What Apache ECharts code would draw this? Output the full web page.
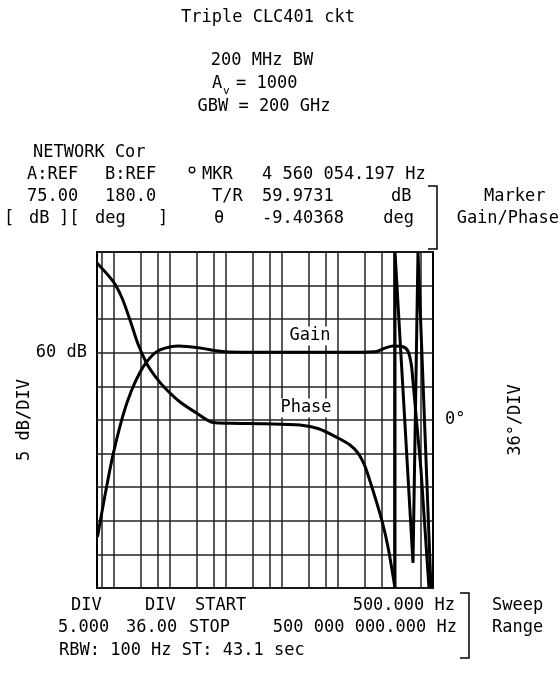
<!DOCTYPE html>
<html>
<head>
<meta charset="utf-8">
<script src="https://cdn.jsdelivr.net/npm/echarts@6/dist/echarts.min.js"></script>
<style>
html,body{margin:0;padding:0;background:#fff;}
#chart{width:560px;height:675px;}
</style>
</head>
<body>
<div id="chart"></div>
<script>
// ---------- data ----------
// Frequency sweep 500 Hz .. 500 MHz (log)
const gainFreq = [510, 695, 965, 1456, 2025, 2930, 4070, 5650, 8180, 14150, 32200, 96600, 500000, 2110000, 10900000, 46000000, 69500000, 96600000, 146000000, 181000000, 208000000];
const gainDb   = [32.6, 38.8, 44.8, 50.7, 54.2, 57.1, 58.9, 60.1, 60.7, 61.0, 60.75, 60.15, 60.07, 60.07, 60.07, 60.15, 60.7, 61.0, 60.9, 60.15, 57.9];
const gainTailFreq = [208000000, 305000000, 424000000];
const gainTailDb   = [57.9, 42.6, 25.0];

const phaseFreq = [505, 977, 1397, 1942, 2698, 3900, 5425, 8180, 15200, 30000, 59600, 119000, 500000, 2110000, 4560000, 10060000, 16480000, 22900000, 29300000, 36000000, 46000000, 61400000, 78600000, 104700000];
const phaseDeg  = [168, 148.2, 130.7, 107.1, 81.4, 60.0, 47.1, 34.3, 19.3, 7.5, -2.7, -3.5, -4.0, -5.4, -9.4, -19.3, -26.8, -35.4, -47.1, -62.1, -82.5, -108.2, -136.1, -180];
const phaseTailFreq = [104700000, 104800000, 219800000, 269800000, 460000000];
const phaseTailDeg  = [-180, 180, -153, 180, -180];

const gridFreqs = [600, 1e3, 3e3, 6e3, 1e4, 3e4, 6e4, 1e5, 3e5, 6e5, 1e6, 3e6, 6e6, 1e7, 3e7, 6e7, 1e8, 3e8];

const gainMin = 25, gainMax = 75, gainDiv = 5;
const phaseMin = -180, phaseMax = 180, phaseDiv = 36;
const fStart = 500, fStop = 5e8;

// ---------- chart ----------
const FONT = 'DejaVu Sans Mono';
const FS = 17;
const pair = (xs, ys) => xs.map((x, i) => [x, ys[i]]);
const font = s => s + 'px "' + FONT + '"';

const texts = [
  // header
  ['Triple CLC401 ckt', 268, 18, 'center'],
  ['200 MHz BW', 262, 61, 'center'],
  ['GBW = 200 GHz', 264, 107, 'center'],
  ['NETWORK Cor', 33, 153, 'left'],
  ['A:REF', 27, 175, 'left'],
  ['B:REF', 105, 175, 'left'],
  ['MKR', 202, 175, 'left'],
  ['4 560 054.197 Hz', 262, 175, 'left'],
  ['75.00', 27, 197, 'left'],
  ['180.0', 105, 197, 'left'],
  ['T/R', 212, 197, 'left'],
  ['59.9731', 262, 197, 'left'],
  ['dB', 391, 197, 'left'],
  ['Marker', 484, 197, 'left'],
  ['[', 4, 219, 'left'],
  ['dB', 29, 219, 'left'],
  ['][', 59, 219, 'left'],
  ['deg', 95, 219, 'left'],
  [']', 158, 219, 'left'],
  ['θ', 214, 219, 'left'],
  ['-9.40368', 262, 219, 'left'],
  ['deg', 414, 219, 'right'],
  ['Gain/Phase', 559, 219, 'right'],
  // footer
  ['DIV', 71, 606, 'left'],
  ['DIV', 145, 606, 'left'],
  ['START', 195, 606, 'left'],
  ['500.000 Hz', 455, 606, 'right'],
  ['Sweep', 492, 606, 'left'],
  ['5.000', 58, 628, 'left'],
  ['36.00', 126, 628, 'left'],
  ['STOP', 189, 628, 'left'],
  ['500 000 000.000 Hz', 457, 628, 'right'],
  ['Range', 492, 628, 'left'],
  ['RBW: 100 Hz ST: 43.1 sec', 59, 651, 'left']
];

const graphic = texts.map(t => ({
  type: 'text', x: t[1], y: t[2], silent: true,
  style: { text: t[0], fill: '#000', font: font(FS), textAlign: t[3], textVerticalAlign: 'middle' }
}));
// A_v = 1000
graphic.push({ type: 'text', x: 212, y: 84, style: { text: 'A', fill: '#000', font: font(FS), textVerticalAlign: 'middle' } });
graphic.push({ type: 'text', x: 223, y: 91, style: { text: 'v', fill: '#000', font: font(11), textVerticalAlign: 'middle' } });
graphic.push({ type: 'text', x: 236, y: 84, style: { text: '= 1000', fill: '#000', font: font(FS), textVerticalAlign: 'middle' } });
// marker circle before MKR
graphic.push({ type: 'circle', shape: { cx: 192, cy: 170, r: 2.8 }, style: { fill: 'none', stroke: '#000', lineWidth: 1.3 } });
// brackets
graphic.push({ type: 'polyline', shape: { points: [[428, 186], [437, 186], [437, 249], [428, 249]] }, style: { stroke: '#000', lineWidth: 1.5, fill: 'none' } });
graphic.push({ type: 'polyline', shape: { points: [[460, 593], [469, 593], [469, 658], [460, 658]] }, style: { stroke: '#000', lineWidth: 1.5, fill: 'none' } });
// side labels
graphic.push({ type: 'text', x: 25, y: 420, rotation: Math.PI / 2, style: { text: '5 dB/DIV', fill: '#000', font: font(FS), textAlign: 'center', textVerticalAlign: 'middle' } });
graphic.push({ type: 'text', x: 516, y: 420, rotation: Math.PI / 2, style: { text: '36°/DIV', fill: '#000', font: font(FS), textAlign: 'center', textVerticalAlign: 'middle' } });
// trace labels
graphic.push({ type: 'text', x: 310, y: 336, z: 100, style: { text: 'Gain', fill: '#000', font: font(FS), textAlign: 'center', textVerticalAlign: 'middle', backgroundColor: '#fff', padding: [1, 2] } });
graphic.push({ type: 'text', x: 306, y: 408, z: 100, style: { text: 'Phase', fill: '#000', font: font(FS), textAlign: 'center', textVerticalAlign: 'middle', backgroundColor: '#fff', padding: [1, 2] } });

const traceStyle = { color: '#000', width: 3 };
const option = {
  animation: false,
  backgroundColor: '#fff',
  grid: { left: 97, top: 252, width: 336, height: 336, show: true, borderColor: '#000', borderWidth: 2, backgroundColor: 'transparent', containLabel: false },
  xAxis: {
    type: 'log', logBase: 10, min: fStart, max: fStop,
    axisLine: { show: false }, axisTick: { show: false }, axisLabel: { show: false }, splitLine: { show: false }
  },
  yAxis: [
    {
      type: 'value', min: gainMin, max: gainMax, interval: gainDiv, position: 'left',
      axisLine: { show: false }, axisTick: { show: false },
      axisLabel: { formatter: v => (v === 60 ? '60 dB' : ''), color: '#000', fontFamily: FONT, fontSize: FS, margin: 10 },
      splitLine: { lineStyle: { color: '#222', width: 1.5 } }
    },
    {
      type: 'value', min: phaseMin, max: phaseMax, interval: phaseDiv, position: 'right',
      axisLine: { show: false }, axisTick: { show: false },
      axisLabel: { formatter: v => (Math.abs(v) < 1e-9 ? '0°' : ''), color: '#000', fontFamily: FONT, fontSize: FS, margin: 12 },
      splitLine: { show: false }
    }
  ],
  series: [
    {
      type: 'line', data: [], z: 1, silent: true,
      markLine: { silent: true, symbol: 'none', animation: false, label: { show: false },
        lineStyle: { color: '#222', width: 1.5, type: 'solid' },
        data: gridFreqs.map(f => ({ xAxis: f })) }
    },
    { type: 'line', name: 'Gain', yAxisIndex: 0, data: pair(gainFreq, gainDb), showSymbol: false, smooth: 0.3, lineStyle: traceStyle, z: 5 },
    { type: 'line', name: 'GainTail', yAxisIndex: 0, data: pair(gainTailFreq, gainTailDb), showSymbol: false, lineStyle: traceStyle, z: 5 },
    { type: 'line', name: 'Phase', yAxisIndex: 1, data: pair(phaseFreq, phaseDeg), showSymbol: false, smooth: 0.3, lineStyle: traceStyle, z: 5 },
    { type: 'line', name: 'PhaseTail', yAxisIndex: 1, data: pair(phaseTailFreq, phaseTailDeg), showSymbol: false, lineStyle: traceStyle, z: 5 }
  ],
  graphic: graphic
};
const chart = echarts.init(document.getElementById('chart'), null, { renderer: 'canvas' });
chart.setOption(option);
</script>
</body>
</html>
